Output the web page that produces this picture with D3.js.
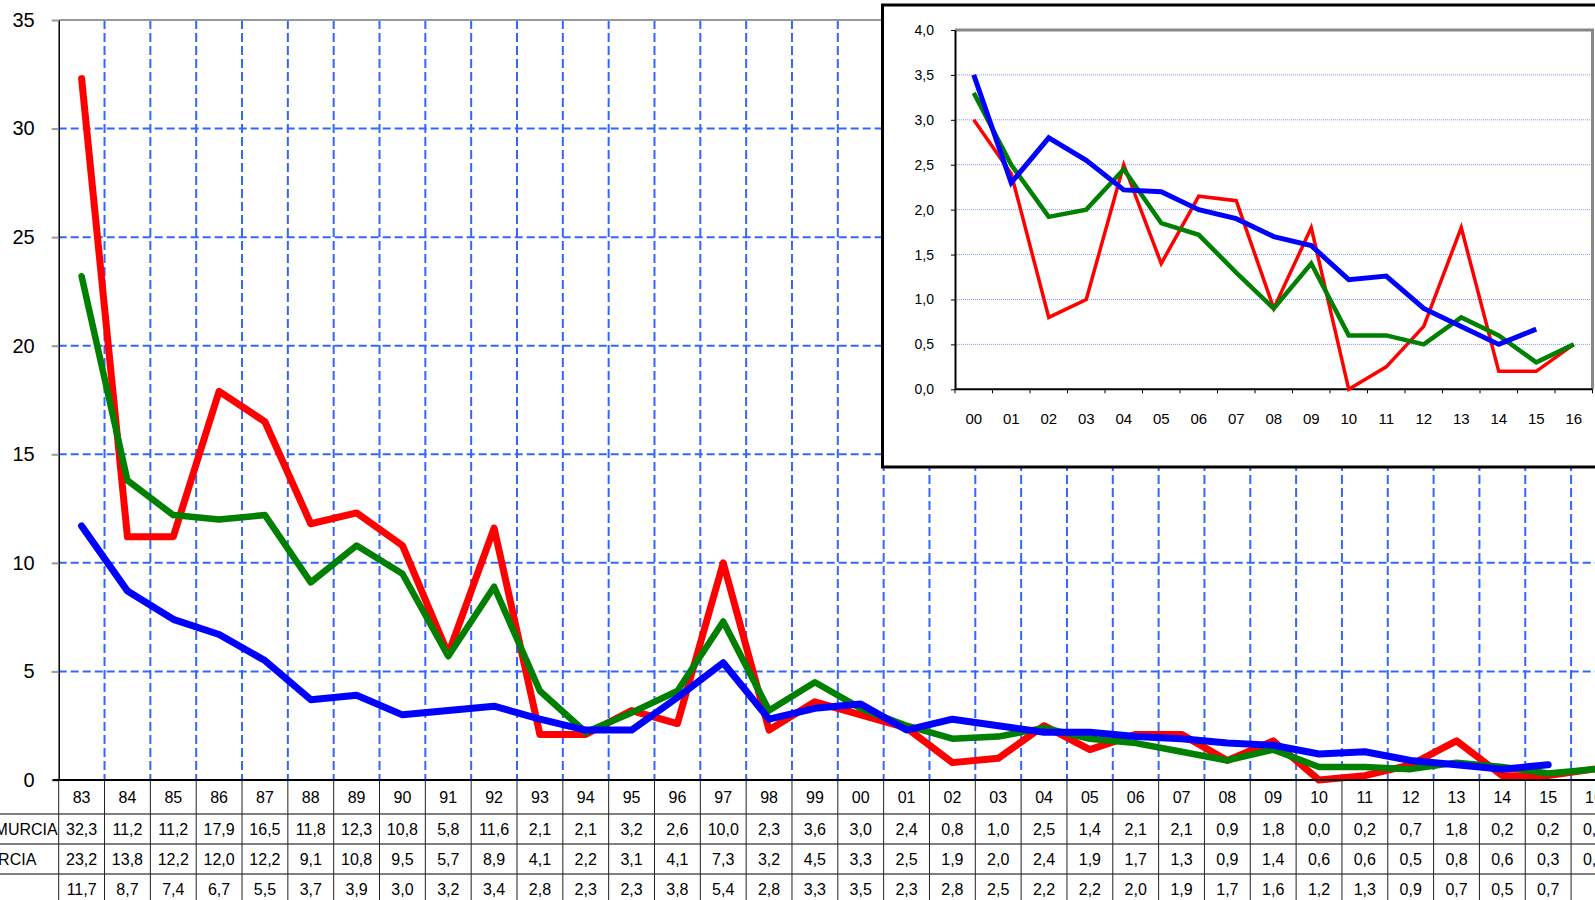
<!DOCTYPE html>
<html>
<head>
<meta charset="utf-8">
<script src="https://cdnjs.cloudflare.com/ajax/libs/d3/7.8.5/d3.min.js"></script>
<style>
  body { margin: 0; background: #fff; }
  svg { display: block; font-family: "Liberation Sans", Arial, sans-serif; }
</style>
</head>
<body>
<script>
// data
var years = ['83','84','85','86','87','88','89','90','91','92','93','94','95','96','97','98','99',
             '00','01','02','03','04','05','06','07','08','09','10','11','12','13','14','15','16'];
var rowLabels = ['MUNICIPIO DE MURCIA', 'REGIÓN DE MURCIA', 'ESPAÑA'];
var red   = [32.3,11.2,11.2,17.9,16.5,11.8,12.3,10.8,5.8,11.6,2.1,2.1,3.2,2.6,10.0,2.3,3.6,
             3.0,2.4,0.8,1.0,2.5,1.4,2.1,2.1,0.9,1.8,0.0,0.2,0.7,1.8,0.2,0.2,0.5];
var green = [23.2,13.8,12.2,12.0,12.2,9.1,10.8,9.5,5.7,8.9,4.1,2.2,3.1,4.1,7.3,3.2,4.5,
             3.3,2.5,1.9,2.0,2.4,1.9,1.7,1.3,0.9,1.4,0.6,0.6,0.5,0.8,0.6,0.3,0.5];
var blue  = [11.7,8.7,7.4,6.7,5.5,3.7,3.9,3.0,3.2,3.4,2.8,2.3,2.3,3.8,5.4,2.8,3.3,
             3.5,2.3,2.8,2.5,2.2,2.2,2.0,1.9,1.7,1.6,1.2,1.3,0.9,0.7,0.5,0.7,null];
var yTicks = [0,5,10,15,20,25,30,35];

// inset 2000-2016, values (a bit finer than the table)
var inYears = ['00','01','02','03','04','05','06','07','08','09','10','11','12','13','14','15','16'];
var inRed   = [3.0,2.4,0.8,1.0,2.5,1.4,2.15,2.1,0.9,1.8,0.0,0.25,0.7,1.8,0.2,0.2,0.5];
var inGreen = [3.3,2.5,1.92,2.0,2.45,1.85,1.72,1.3,0.9,1.4,0.6,0.6,0.5,0.8,0.6,0.3,0.5];
var inBlue  = [3.5,2.3,2.8,2.55,2.22,2.2,2.0,1.9,1.7,1.6,1.22,1.26,0.9,0.7,0.5,0.67,null];
var insetTicks = [0,0.5,1,1.5,2,2.5,3,3.5,4];

var width = 1595, height = 900;
var comma = function(v) { return d3.format('.1f')(v).replace('.', ','); };

var svg = d3.select('body')
  .append('svg')
    .attr('width', width)
    .attr('height', height);

var left = 58.7, colW = 45.83;
var x = d3.scaleBand().domain(years).range([left, left + colW * years.length]);
var y = d3.scaleLinear().domain([0, 35]).range([780, 20]);

var series = [
  { values: red,   inset: inRed,   color: '#ff0000', w: 7,   iw: 3.5 },
  { values: green, inset: inGreen, color: '#008000', w: 6.5, iw: 4.5 },
  { values: blue,  inset: inBlue,  color: '#0000ff', w: 7,   iw: 5 }
];

// grid
var bounds = years.slice(1).map(function(d) { return x(d); }).concat([x.range()[1]]);
svg.append('g').selectAll('line')
  .data(bounds)
  .enter().append('line')
    .attr('x1', function(d) { return d; })
    .attr('x2', function(d) { return d; })
    .attr('y1', y(35))
    .attr('y2', y(0))
    .attr('stroke', '#3366ff')
    .attr('stroke-width', 2)
    .attr('stroke-dasharray', '9,4');

svg.append('g').selectAll('line')
  .data(yTicks.filter(function(t) { return t > 0 && t < 35; }))
  .enter().append('line')
    .attr('x1', left)
    .attr('x2', width)
    .attr('y1', function(d) { return y(d); })
    .attr('y2', function(d) { return y(d); })
    .attr('stroke', '#3366ff')
    .attr('stroke-width', 2)
    .attr('stroke-dasharray', '8,4');

svg.append('line')
  .attr('x1', left).attr('x2', width)
  .attr('y1', y(35)).attr('y2', y(35))
  .attr('stroke', '#999').attr('stroke-width', 2);

// y axis
var yAxis = svg.append('g')
  .attr('transform', 'translate(' + left + ',0)')
  .call(d3.axisLeft(y).tickValues(yTicks).tickSize(7).tickSizeOuter(0).tickPadding(17));
yAxis.select('.domain').attr('stroke', '#000').attr('stroke-width', 1.5);
yAxis.selectAll('.tick line').attr('stroke', '#999').attr('stroke-width', 2);
yAxis.selectAll('.tick text')
  .attr('fill', '#000')
  .style('font-size', '20px')
  .style('font-family', '"Liberation Sans", Arial, sans-serif');

// main lines
series.forEach(function(s) {
  var line = d3.line()
    .defined(function(d) { return d != null; })
    .x(function(d, i) { return x(years[i]) + x.bandwidth() / 2; })
    .y(function(d) { return y(d); });
  svg.append('path')
    .datum(s.values)
    .attr('fill', 'none')
    .attr('stroke', s.color)
    .attr('stroke-width', s.w)
    .attr('stroke-linejoin', 'round')
    .attr('stroke-linecap', 'round')
    .attr('d', line);
});

// data table
var rowTop = [780, 814, 844, 874];
var rowH = [34, 30, 30, 30];
var table = svg.append('g');

table.append('line')
  .attr('x1', left - 6).attr('x2', width)
  .attr('y1', 780).attr('y2', 780)
  .attr('stroke', '#000').attr('stroke-width', 2);

table.selectAll('.hline')
  .data(rowTop.slice(1))
  .enter().append('line')
    .attr('x1', 0).attr('x2', width)
    .attr('y1', function(d) { return d; })
    .attr('y2', function(d) { return d; })
    .attr('stroke', '#000').attr('stroke-width', 1);

table.selectAll('.vline')
  .data([left].concat(bounds))
  .enter().append('line')
    .attr('x1', function(d) { return d; })
    .attr('x2', function(d) { return d; })
    .attr('y1', 780).attr('y2', height)
    .attr('stroke', '#222').attr('stroke-width', 1);

table.selectAll('.yr')
  .data(years)
  .enter().append('text')
    .attr('x', function(d) { return x(d) + x.bandwidth() / 2; })
    .attr('y', rowTop[0] + rowH[0] / 2)
    .attr('dy', '0.35em')
    .attr('text-anchor', 'middle')
    .style('font-size', '16px')
    .text(function(d) { return d; });

series.forEach(function(s, r) {
  var cy = rowTop[r + 1] + rowH[r + 1] / 2;
  table.append('text')
    .attr('x', -121)
    .attr('y', cy)
    .attr('dy', '0.35em')
    .style('font-size', '16px')
    .text(rowLabels[r]);
  table.selectAll('.v' + r)
    .data(s.values)
    .enter().append('text')
      .attr('x', function(d, i) { return x(years[i]) + x.bandwidth() / 2; })
      .attr('y', cy)
      .attr('dy', '0.35em')
      .attr('text-anchor', 'middle')
      .style('font-size', '16px')
      .text(function(d) { return d == null ? '' : comma(d); });
});

// inset chart
var ix = d3.scaleBand().domain(inYears).range([955, 1592.5]);
var iy = d3.scaleLinear().domain([0, 4]).range([389.3, 30]);

var inset = svg.append('g');
inset.append('rect')
  .attr('x', 882.5).attr('y', 5)
  .attr('width', 800).attr('height', 462)
  .attr('fill', '#fff')
  .attr('stroke', '#000')
  .attr('stroke-width', 3);

inset.selectAll('.ig')
  .data(insetTicks.filter(function(t) { return t > 0 && t < 4; }))
  .enter().append('line')
    .attr('x1', ix.range()[0]).attr('x2', ix.range()[1])
    .attr('y1', function(d) { return iy(d); })
    .attr('y2', function(d) { return iy(d); })
    .attr('stroke', '#7f95ff')
    .attr('stroke-width', 1)
    .attr('stroke-dasharray', '1,1');

// plot area border
inset.append('path')
  .attr('d', 'M' + ix.range()[0] + ',' + iy(4) + 'H' + ix.range()[1] + 'V' + iy(0))
  .attr('fill', 'none')
  .attr('stroke', '#888')
  .attr('stroke-width', 3);

var iyAxis = inset.append('g')
  .attr('transform', 'translate(' + ix.range()[0] + ',0)')
  .call(d3.axisLeft(iy).tickValues(insetTicks).tickFormat(comma).tickSize(4).tickSizeOuter(0).tickPadding(17));
iyAxis.select('.domain').attr('stroke', '#000').attr('stroke-width', 2);
iyAxis.selectAll('.tick text')
  .attr('fill', '#000')
  .style('font-size', '14px')
  .style('font-family', '"Liberation Sans", Arial, sans-serif');

var iBounds = inYears.map(function(d) { return ix(d); }).concat([ix.range()[1]]);
inset.selectAll('.ixt')
  .data(iBounds)
  .enter().append('line')
    .attr('x1', function(d) { return d; })
    .attr('x2', function(d) { return d; })
    .attr('y1', iy(0)).attr('y2', iy(0) + 4)
    .attr('stroke', '#000').attr('stroke-width', 1);

inset.append('line')
  .attr('x1', ix.range()[0]).attr('x2', ix.range()[1])
  .attr('y1', iy(0)).attr('y2', iy(0))
  .attr('stroke', '#000').attr('stroke-width', 2);

inset.selectAll('.ixl')
  .data(inYears)
  .enter().append('text')
    .attr('x', function(d) { return ix(d) + ix.bandwidth() / 2; })
    .attr('y', 419)
    .attr('dy', '0.35em')
    .attr('text-anchor', 'middle')
    .style('font-size', '15px')
    .text(function(d) { return d; });

series.forEach(function(s) {
  var line = d3.line()
    .defined(function(d) { return d != null; })
    .x(function(d, i) { return ix(inYears[i]) + ix.bandwidth() / 2; })
    .y(function(d) { return iy(d); });
  inset.append('path')
    .datum(s.inset)
    .attr('fill', 'none')
    .attr('stroke', s.color)
    .attr('stroke-width', s.iw)
    .attr('stroke-linejoin', 'miter')
    .attr('stroke-linecap', 'butt')
    .attr('d', line);
});
</script>
</body>
</html>
